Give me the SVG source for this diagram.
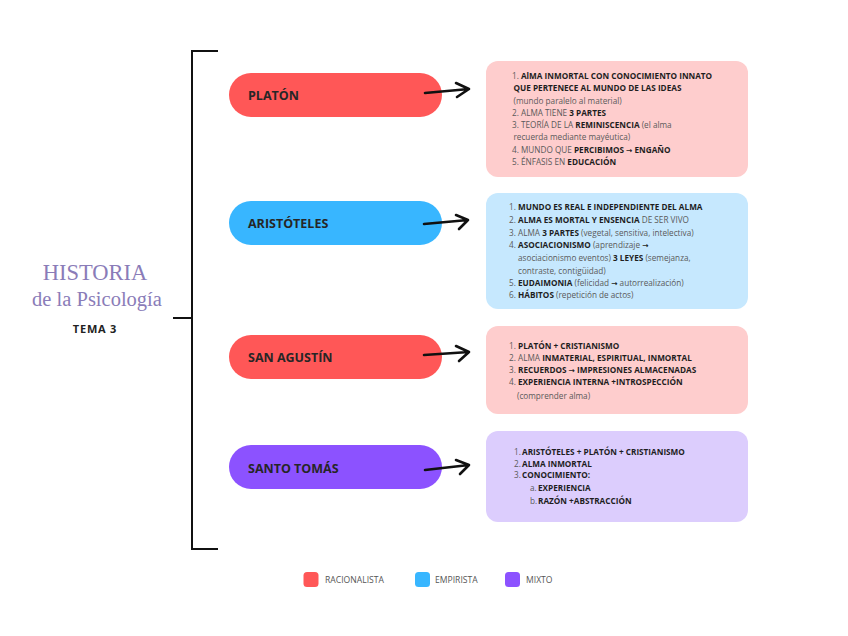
<svg xmlns="http://www.w3.org/2000/svg" width="848" height="636" viewBox="0 0 848 636">
<style>
.pill-t{font-family:"Open Sans","Liberation Sans",sans-serif;font-weight:700;font-size:12.5px;fill:#262626}
.bt{font-family:"Open Sans","Liberation Sans",sans-serif;font-size:8.2px;fill:#5a5a5a}
.b{font-weight:700;fill:#1e1e1e}
.ar{font-family:"DejaVu Sans",sans-serif;font-weight:700;font-size:7.5px;fill:#1e1e1e}
.arrow{fill:none;stroke:#111;stroke-width:2.6;stroke-linecap:round;stroke-linejoin:round}
.leg{font-family:"Open Sans","Liberation Sans",sans-serif;font-size:8.6px;fill:#555}
.brk{fill:none;stroke:#111;stroke-width:2}
</style>
<rect width="848" height="636" fill="#fff"/>
<g id="title">
<text x="95" y="280" text-anchor="middle" font-family="Liberation Serif,serif" font-size="22.5" fill="#8a7cb8">HISTORIA</text>
<text x="97" y="306" text-anchor="middle" font-family="Liberation Serif,serif" font-size="20.5" fill="#8a7cb8">de la Psicología</text>
<text x="95" y="333" text-anchor="middle" font-family="Open Sans,Liberation Sans,sans-serif" font-weight="700" font-size="11" letter-spacing="0.8" fill="#222">TEMA 3</text>
</g>
<g id="bracket">
<path class="brk" d="M218,51 H192 V549 H218 M173,318 H192"/>
</g>
<g id="platon">
<rect x="229" y="73" width="213" height="44" rx="22" fill="#ff5757"/>
<text class="pill-t" x="248" y="100">PLATÓN</text>
</g>
<g id="aristoteles">
<rect x="229" y="201" width="213" height="44" rx="22" fill="#38b6ff"/>
<text class="pill-t" x="248" y="228">ARISTÓTELES</text>
</g>
<g id="san-agustin">
<rect x="229" y="335" width="213" height="44" rx="22" fill="#ff5757"/>
<text class="pill-t" x="248" y="362">SAN AGUSTÍN</text>
</g>
<g id="santo-tomas">
<rect x="229" y="445" width="213" height="44" rx="22" fill="#8c52ff"/>
<text class="pill-t" x="248" y="473">SANTO TOMÁS</text>
</g>
<g id="connectors">
<path class="arrow" d="M425,93 L469,89 M456,83 L469,89 L457,97"/>
<path class="arrow" d="M424,224 L468,220 M456,215 L468,220 L459,229"/>
<path class="arrow" d="M424,355 L469,352 M456,346 L469,352 L459,361"/>
<path class="arrow" d="M425,470 L469,465 M456,460 L469,465 L460,474"/>
</g>
<g id="box-platon">
<rect x="486" y="61" width="262" height="116" rx="12" fill="#fecdcd"/>
<text class="bt" x="512" y="79">1. <tspan class="b">AlMA INMORTAL CON CONOCIMIENTO INNATO</tspan></text>
<text class="bt" x="513.5" y="90.5"><tspan class="b">QUE PERTENECE AL MUNDO DE LAS IDEAS</tspan></text>
<text class="bt" x="513.5" y="104">(mundo paralelo al material)</text>
<text class="bt" x="512" y="116">2. ALMA TIENE <tspan class="b">3 PARTES</tspan></text>
<text class="bt" x="512" y="128">3. TEORÍA DE LA <tspan class="b">REMINISCENCIA</tspan> (el alma</text>
<text class="bt" x="513.5" y="140">recuerda mediante mayéutica)</text>
<text class="bt" x="512" y="153">4. MUNDO QUE <tspan class="b">PERCIBIMOS </tspan><tspan class="ar">→</tspan><tspan class="b"> ENGAÑO</tspan></text>
<text class="bt" x="512" y="165">5. ÉNFASIS EN <tspan class="b">EDUCACIÓN</tspan></text>
</g>
<g id="box-aristoteles">
<rect x="486" y="193" width="262" height="116" rx="12" fill="#c6e8fe"/>
<text class="bt" x="509" y="210">1.<tspan x="518" class="b">MUNDO ES REAL E INDEPENDIENTE DEL ALMA</tspan></text>
<text class="bt" x="509" y="222.5">2.<tspan x="518" class="b">ALMA ES MORTAL Y ENSENCIA</tspan> DE SER VIVO</text>
<text class="bt" x="509" y="236">3.<tspan x="518">ALMA </tspan><tspan class="b">3 PARTES</tspan> (vegetal, sensitiva, intelectiva)</text>
<text class="bt" x="509" y="248">4.<tspan x="518" class="b">ASOCIACIONISMO</tspan> (aprendizaje <tspan class="ar">→</tspan></text>
<text class="bt" x="518" y="260.5">asociacionismo eventos) <tspan class="b">3 LEYES</tspan> (semejanza,</text>
<text class="bt" x="518" y="274">contraste, contigüidad)</text>
<text class="bt" x="509" y="285.5">5.<tspan x="518" class="b">EUDAIMONIA</tspan> (felicidad <tspan class="ar">→</tspan> autorrealización)</text>
<text class="bt" x="509" y="297.5">6.<tspan x="518" class="b">HÁBITOS</tspan> (repetición de actos)</text>
</g>
<g id="box-san-agustin">
<rect x="486" y="326" width="262" height="88" rx="12" fill="#fecdcd"/>
<text class="bt" x="509" y="349">1.<tspan x="518" class="b">PLATÓN + CRISTIANISMO</tspan></text>
<text class="bt" x="509" y="361">2.<tspan x="518">ALMA </tspan><tspan class="b">INMATERIAL, ESPIRITUAL, INMORTAL</tspan></text>
<text class="bt" x="509" y="372.5">3.<tspan x="518" class="b">RECUERDOS </tspan><tspan class="ar">→</tspan><tspan class="b"> IMPRESIONES ALMACENADAS</tspan></text>
<text class="bt" x="509" y="385">4.<tspan x="518" class="b">EXPERIENCIA INTERNA +INTROSPECCIÓN</tspan></text>
<text class="bt" x="517" y="399">(comprender alma)</text>
</g>
<g id="box-santo-tomas">
<rect x="486" y="431" width="262" height="91" rx="12" fill="#dccdfd"/>
<text class="bt" x="514" y="455">1.<tspan x="522" class="b">ARISTÓTELES + PLATÓN + CRISTIANISMO</tspan></text>
<text class="bt" x="514" y="466.5">2.<tspan x="522" class="b">ALMA INMORTAL</tspan></text>
<text class="bt" x="514" y="478">3.<tspan x="522" class="b">CONOCIMIENTO:</tspan></text>
<text class="bt" x="530" y="490.5">a.<tspan x="538" class="b">EXPERIENCIA</tspan></text>
<text class="bt" x="530" y="504">b.<tspan x="538" class="b">RAZÓN +ABSTRACCIÓN</tspan></text>
</g>
<g id="legend">
<rect x="303.5" y="572" width="15" height="15" rx="3.5" fill="#ff5757"/>
<text class="leg" x="325" y="582.5">RACIONALISTA</text>
<rect x="415" y="572" width="15" height="15" rx="3.5" fill="#38b6ff"/>
<text class="leg" x="435" y="582.5">EMPIRISTA</text>
<rect x="505" y="572" width="15" height="15" rx="3.5" fill="#8c52ff"/>
<text class="leg" x="526" y="582.5">MIXTO</text>
</g>
</svg>
